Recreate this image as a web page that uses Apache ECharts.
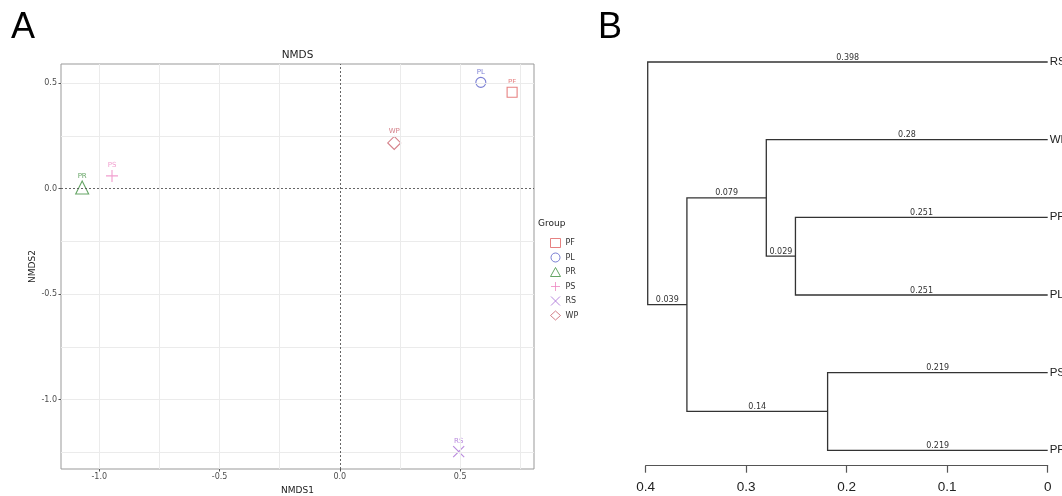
<!DOCTYPE html>
<html><head><meta charset="utf-8">
<script src="https://cdn.jsdelivr.net/npm/echarts@6/dist/echarts.min.js"></script>
<style>html,body{margin:0;padding:0;background:#fff}#c{width:1062px;height:496px}</style>
</head><body><div id="c"></div>
<script>
// ---------- Panel A: NMDS data ----------
const groups = ['PF', 'PL', 'PR', 'PS', 'RS', 'WP'];
const nmds1 = [0.716, 0.586, -1.071, -0.947, 0.494, 0.226];
const nmds2 = [0.456, 0.503, 0.005, 0.060, -1.246, 0.216];
const axisTicksA = [-1.0, -0.5, 0.0, 0.5];
const gridValuesX = [-1.0, -0.75, -0.5, -0.25, 0.25, 0.5, 0.75];
const gridValuesY = [-1.25, -1.0, -0.75, -0.5, -0.25, 0.25, 0.5];
const xRangeA = [-1.159, 0.807];
const yRangeA = [-1.328, 0.59];

// ---------- Panel B: dendrogram data ----------
const leaves = ['RS', 'WP', 'PF', 'PL', 'PS', 'PR'];
const mergeLeft = [4, 2, 1, 8, 0];
const mergeRight = [5, 3, 7, 6, 9];
const mergeHeight = [0.219, 0.251, 0.28, 0.359, 0.398];
const treeTicks = [0.4, 0.3, 0.2, 0.1, 0];

// ---------- styles ----------
const groupColors = ['#e06262', '#5a5fc8', '#3f8f3f', '#ee86c2', '#a66ad4', '#c9606c'];
const groupSymbols = ['rect', 'circle', 'triangle', 'path://M0,5L10,5M5,0L5,10', 'path://M0,0L10,10M10,0L0,10', 'diamond'];
const groupSizes = [10, 10, 13, 12, 11, 13];
const FA = 'DejaVu Sans';
const FB = 'Liberation Sans';

// build tree nodes
const nodeY = leaves.map((_, i) => i);
const nodeH = leaves.map(() => 0);
mergeLeft.forEach((l, k) => {
  const r = mergeRight[k];
  nodeY.push((nodeY[l] + nodeY[r]) / 2);
  nodeH.push(mergeHeight[k]);
});
const treeData = mergeLeft.map((l, k) => {
  const r = mergeRight[k];
  const n = leaves.length + k;
  return [nodeH[n], nodeY[n], nodeH[l], nodeY[l], nodeH[r], nodeY[r]];
});

function renderTree(params, api) {
  const h = api.value(0);
  const kids = [[api.value(2), api.value(3)], [api.value(4), api.value(5)]];
  const pts = [
    api.coord([kids[0][0], kids[0][1]]),
    api.coord([h, kids[0][1]]),
    api.coord([h, kids[1][1]]),
    api.coord([kids[1][0], kids[1][1]])
  ];
  const els = [{
    type: 'polyline', shape: { points: pts },
    style: { stroke: '#333', lineWidth: 1.3, fill: 'none' }
  }];
  kids.forEach(([ch, cy]) => {
    const a = api.coord([h, cy]), b = api.coord([ch, cy]);
    els.push({
      type: 'text', x: (a[0] + b[0]) / 2, y: a[1] - 0.5,
      style: { text: String(+(h - ch).toFixed(3)), fontSize: 8, fill: '#333',
               align: 'center', verticalAlign: 'bottom', fontFamily: FA }
    });
  });
  return { type: 'group', children: els };
}

const gridLineData = gridValuesX.map(v => ({ xAxis: v }))
  .concat(gridValuesY.map(v => ({ yAxis: v })))
  .concat([
    { xAxis: 0, lineStyle: { color: '#555', type: [2, 2], width: 0.9 } },
    { yAxis: 0, lineStyle: { color: '#555', type: [2, 2], width: 0.9 } }
  ]);

const scatterSeries = groups.map((g, i) => ({
  name: g, type: 'scatter', xAxisIndex: 0, yAxisIndex: 0, z: 3,
  data: [[nmds1[i], nmds2[i]]],
  symbol: groupSymbols[i], symbolSize: groupSizes[i],
  itemStyle: { color: 'rgba(0,0,0,0)', borderColor: groupColors[i], borderWidth: 1.1 },
  label: { show: true, position: 'top', distance: 1, formatter: g, fontSize: 7,
           color: groupColors[i], fontFamily: FA },
  emphasis: { disabled: true }
}));

const chart = echarts.init(document.getElementById('c'), null, { renderer: 'canvas' });
chart.setOption({
  animation: false,
  backgroundColor: '#fff',
  graphic: [
    { type: 'text', left: 11, top: 10, style: { text: 'A', fontSize: 36, fill: '#000', fontFamily: FB } },
    { type: 'text', left: 598, top: 10, style: { text: 'B', fontSize: 36, fill: '#000', fontFamily: FB } },
    { type: 'text', x: 297.5, y: 55, style: { text: 'NMDS', fontSize: 10.5, fill: '#222', fontFamily: FA, align: 'center', verticalAlign: 'middle' } },
    { type: 'text', x: 538, y: 224, style: { text: 'Group', fontSize: 9, fill: '#222', fontFamily: FA, align: 'left', verticalAlign: 'middle' } }
  ],
  legend: {
    data: groups, orient: 'vertical', left: 545, top: 233,
    itemWidth: 10, itemHeight: 9, itemGap: 4.5,
    textStyle: { fontSize: 8, color: '#333', fontFamily: FA, lineHeight: 9 },
    itemStyle: { borderWidth: 1 },
    selectedMode: false
  },
  grid: [
    { left: 61, right: 528, top: 64, bottom: 27, show: true, borderColor: '#999', borderWidth: 1, outerBoundsMode: 'none' },
    { left: 645.7, right: 14.3, top: 62, bottom: 45.7, outerBoundsMode: 'none' }
  ],
  xAxis: [
    {
      gridIndex: 0, type: 'value', min: xRangeA[0], max: xRangeA[1],
      name: 'NMDS1', nameLocation: 'middle', nameGap: 12.5,
      nameTextStyle: { fontSize: 9, color: '#222', fontFamily: FA },
      axisLine: { show: false, onZero: false },
      axisTick: { show: true, length: 2.5, customValues: axisTicksA, lineStyle: { color: '#555' } },
      axisLabel: { customValues: axisTicksA, formatter: v => v.toFixed(1), fontSize: 8, color: '#4d4d4d', margin: 4, fontFamily: FA },
      splitLine: { show: false }
    },
    {
      gridIndex: 1, type: 'value', min: 0, max: 0.4, interval: 0.1, inverse: true,
      position: 'bottom', offset: 15.4,
      axisLine: { show: true, onZero: false, lineStyle: { color: '#555', width: 1.2 } },
      axisTick: { show: true, length: 7, inside: false, lineStyle: { color: '#555', width: 1.2 } },
      axisLabel: { fontSize: 13.5, color: '#222', margin: 15, fontFamily: FB,
                   formatter: v => (treeTicks.indexOf(+v.toFixed(1)) >= 0 ? String(+v.toFixed(1)) : '') },
      splitLine: { show: false }
    }
  ],
  yAxis: [
    {
      gridIndex: 0, type: 'value', min: yRangeA[0], max: yRangeA[1],
      name: 'NMDS2', nameLocation: 'middle', nameGap: 22, nameRotate: 90,
      nameTextStyle: { fontSize: 9, color: '#222', fontFamily: FA },
      axisLine: { show: false, onZero: false },
      axisTick: { show: true, length: 2.5, customValues: axisTicksA, lineStyle: { color: '#555' } },
      axisLabel: { customValues: axisTicksA, formatter: v => v.toFixed(1), fontSize: 8, color: '#4d4d4d', margin: 4, fontFamily: FA },
      splitLine: { show: false }
    },
    {
      gridIndex: 1, type: 'value', min: 0, max: leaves.length - 1, interval: 1, inverse: true,
      position: 'right',
      axisLine: { show: false, onZero: false }, axisTick: { show: false }, splitLine: { show: false },
      axisLabel: { formatter: v => leaves[Math.round(v)] || '', fontSize: 11.5, color: '#222', margin: 2, fontFamily: FB }
    }
  ],
  series: [
    {
      name: 'gridlines', type: 'scatter', xAxisIndex: 0, yAxisIndex: 0, z: 1,
      data: [], silent: true,
      markLine: {
        silent: true, symbol: ['none', 'none'], animation: false,
        label: { show: false },
        lineStyle: { color: '#ebebeb', width: 1, type: 'solid' },
        emphasis: { disabled: true },
        data: gridLineData
      }
    }
  ].concat(scatterSeries).concat([
    {
      name: 'tree', type: 'custom', xAxisIndex: 1, yAxisIndex: 1,
      renderItem: renderTree, data: treeData, clip: false, silent: true,
      encode: { x: 0, y: 1 }
    }
  ])
});
</script>
</body></html>
